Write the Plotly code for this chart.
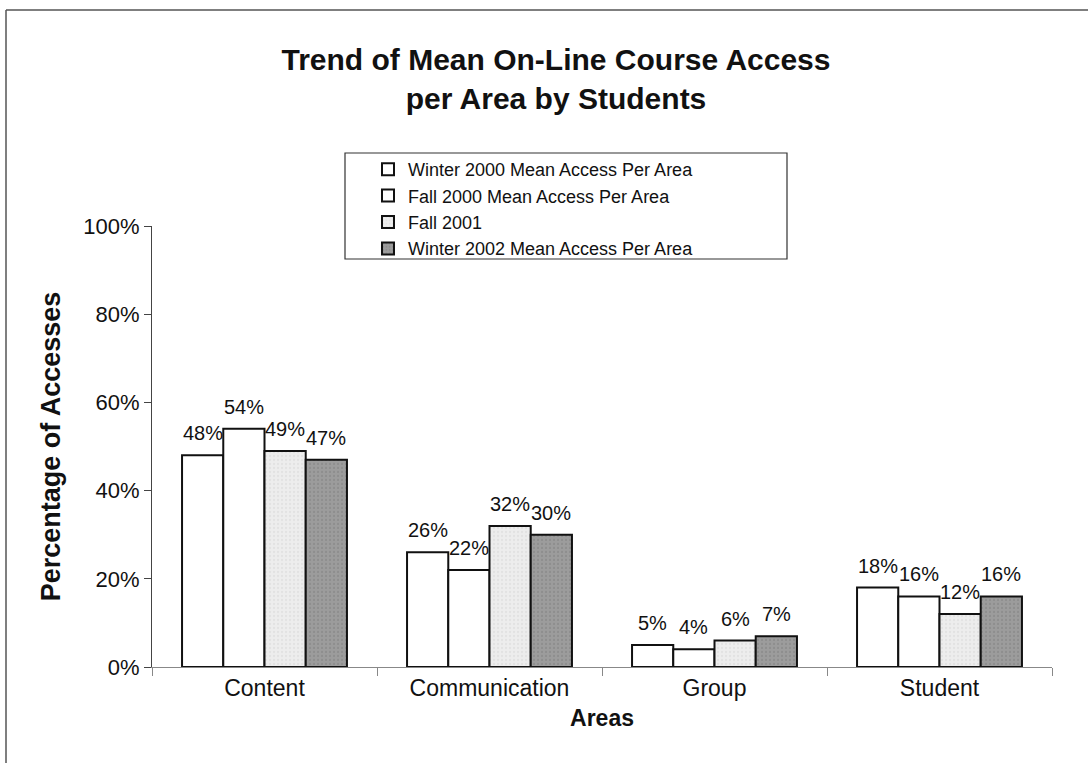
import plotly.graph_objects as go

categories = ["Content", "Communication", "Group", "Student"]
series_names = [
    "Winter 2000 Mean Access Per Area",
    "Fall 2000 Mean Access Per Area",
    "Fall 2001",
    "Winter 2002 Mean Access Per Area",
]
winter_2000 = [0.48, 0.26, 0.05, 0.18]
fall_2000 = [0.54, 0.22, 0.04, 0.16]
fall_2001 = [0.49, 0.32, 0.06, 0.12]
winter_2002 = [0.47, 0.30, 0.07, 0.16]
y_ticks = [0, 0.2, 0.4, 0.6, 0.8, 1.0]
y_tick_labels = ["0%", "20%", "40%", "60%", "80%", "100%"]

series_values = [winter_2000, fall_2000, fall_2001, winter_2002]
fills = ["#ffffff", "#ffffff", "#ededed", "#9c9c9c"]
pattern_fg = [None, None, "#d6d6d6", "#808080"]

FONT = "Liberation Sans, Arial, sans-serif"
BARGAP = 0.267

fig = go.Figure()
for name, vals, fill, pfg in zip(series_names, series_values, fills, pattern_fg):
    marker = dict(color=fill, line=dict(color="#111111", width=2))
    if pfg:
        marker["pattern"] = dict(shape=".", fgcolor=pfg, bgcolor=fill, size=4, solidity=0.25)
    fig.add_trace(go.Bar(x=categories, y=vals, name=name, marker=marker))

# data labels, positioned on the category axis (serial index) above each bar
n = len(series_values)
bar_w = (1 - BARGAP) / n
annotations = []
for i, vals in enumerate(series_values):
    for j, v in enumerate(vals):
        annotations.append(dict(
            x=j + (i - (n - 1) / 2) * bar_w, y=v, xref="x", yref="y",
            text=f"{round(v * 100)}%", showarrow=False,
            xanchor="center", yanchor="bottom", yshift=9,
            font=dict(family=FONT, size=20, color="#111111"),
        ))

L, R, T, B = 152, 36, 226, 96
W, H = 1088, 763
pw, ph = W - L - R, H - T - B

def px_x(x):
    return (x - L) / pw

def px_y(y):
    return (H - B - y) / ph

shapes = [
    # legend box
    dict(type="rect", xref="paper", yref="paper",
         x0=px_x(345), x1=px_x(787), y0=px_y(259), y1=px_y(153),
         line=dict(color="#333333", width=1.2), fillcolor="rgba(0,0,0,0)"),
    # figure border top and left
    dict(type="line", xref="paper", yref="paper",
         x0=px_x(6), x1=px_x(1088), y0=px_y(10), y1=px_y(10),
         line=dict(color="#555555", width=1.5)),
    dict(type="line", xref="paper", yref="paper",
         x0=px_x(6), x1=px_x(6), y0=px_y(10), y1=px_y(763),
         line=dict(color="#555555", width=1.5)),
]

fig.update_layout(
    width=W, height=H,
    margin=dict(l=L, r=R, t=T, b=B),
    paper_bgcolor="white", plot_bgcolor="white",
    font=dict(family=FONT, color="#111111"),
    barmode="group", bargap=BARGAP, bargroupgap=0,
    title=dict(
        text="<b>Trend of Mean On-Line Course Access<br>per Area by Students</b>",
        x=556 / W, xanchor="center", xref="container",
        y=1 - 70 / H, yanchor="top", yref="container",
        font=dict(family=FONT, size=30, color="#111111"),
    ),
    legend=dict(
        x=px_x(368), xanchor="left", y=px_y(151), yanchor="top",
        xref="paper", yref="paper",
        bgcolor="rgba(0,0,0,0)", borderwidth=0,
        font=dict(family=FONT, size=18, color="#111111"),
        tracegroupgap=0, itemsizing="constant",
    ),
    xaxis=dict(
        type="category",
        showline=True, linecolor="#888888", linewidth=1,
        ticks="outside", tickson="boundaries", ticklen=8, tickcolor="#888888",
        tickfont=dict(family=FONT, size=23, color="#111111"),
        showgrid=False, zeroline=False,
        title=dict(text="<b>Areas</b>", font=dict(family=FONT, size=23), standoff=10),
        automargin=False,
    ),
    yaxis=dict(
        range=[0, 1], tickvals=y_ticks, ticktext=y_tick_labels,
        showline=True, linecolor="#444444", linewidth=1,
        ticks="outside", ticklen=7, tickcolor="#444444",
        tickfont=dict(family=FONT, size=22, color="#111111"),
        showgrid=False, zeroline=False,
        title=dict(text="<b>Percentage of Accesses</b>", font=dict(family=FONT, size=27), standoff=14),
        automargin=False,
    ),
    shapes=shapes,
    annotations=annotations,
)

fig.write_html("out.html")
